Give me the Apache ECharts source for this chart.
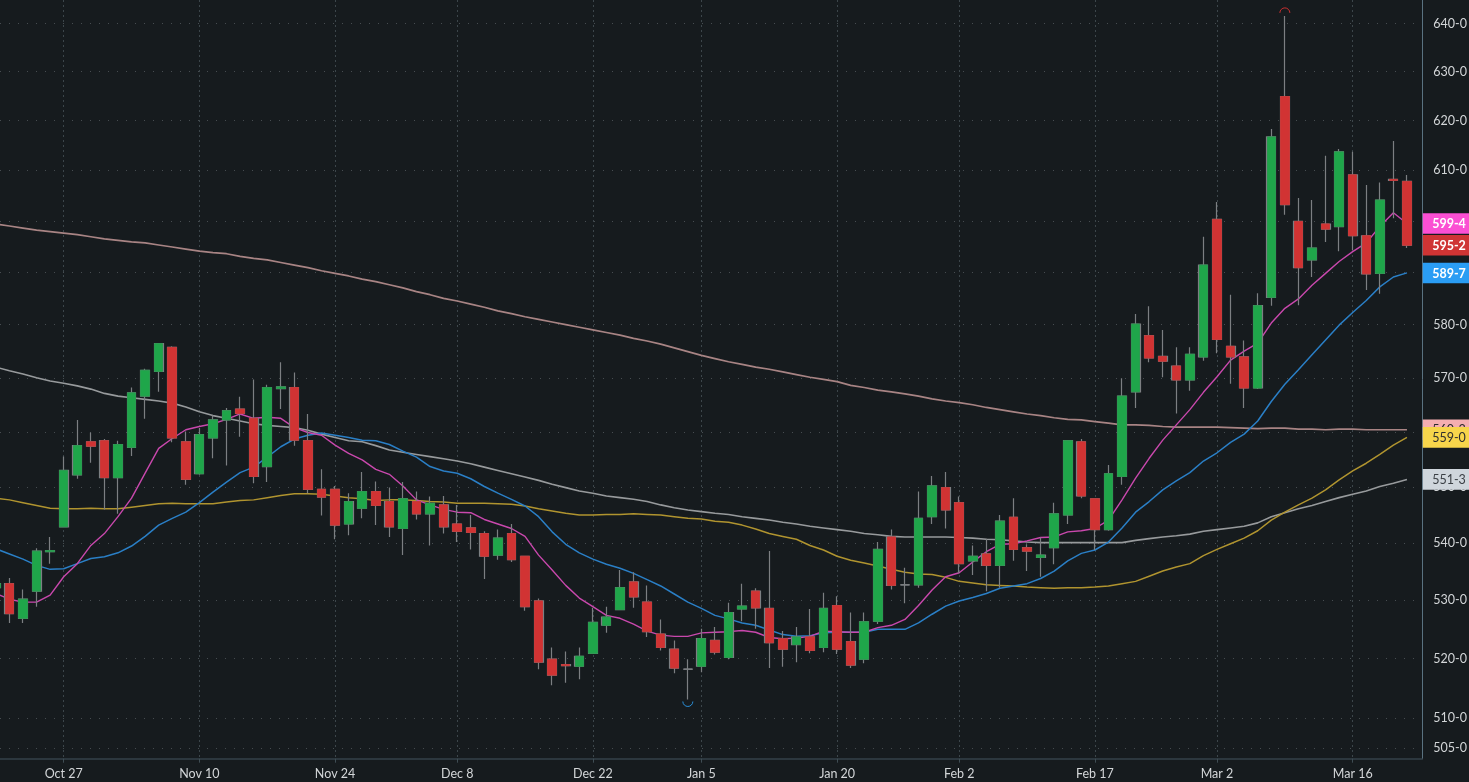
<!DOCTYPE html>
<html>
<head>
<meta charset="utf-8">
<title>Candlestick chart</title>
<style>html,body{margin:0;padding:0;background:#161b1e}#c{width:1469px;height:782px}</style>
<script src="https://cdn.jsdelivr.net/npm/echarts@6/dist/echarts.min.js"></script>
</head>
<body>
<div id="c"></div>
<script>
// bar number -5 .. 99, 0 being Oct 27
const firstBar = -5;
const dateTickBars = [0,10,20,29,39,47,57,66,76,85,95];
const dateTickLabels = ['Oct 27','Nov 10','Nov 24','Dec 8','Dec 22','Jan 5','Jan 20','Feb 2','Feb 17','Mar 2','Mar 16'];
const priceTicks = [640,630,620,610,600,590,580,570,560,550,540,530,520,510,505];

const opens = [532.2,532.9,526.9,531.6,538.5,542.9,552.2,558.2,558.4,551.7,557.2,566.6,571.2,575.7,558.2,552.4,558.9,562.2,564.2,562.5,553.7,568,568.2,558.4,549.6,549.6,543.4,546.2,549.2,547.4,542.6,547.4,545.2,546.8,543.4,542.7,541.7,537.9,541.7,537.7,529.9,519.9,519,518.7,520.9,525.7,528.4,533.2,529.7,524.2,521.6,518.2,518.7,523.1,520.2,528.5,531.6,528.6,523.4,522.4,523.7,521.9,529.1,522.9,519.9,526.4,541.1,532.7,532.7,544.7,549.9,547.2,536.9,538.1,536.1,544.6,539.2,537.5,539.2,545,558.2,547.9,542.4,551.9,567.4,577.9,574,572.2,569.6,573.9,600.3,575.9,573.9,568.1,585.2,624.9,599.9,592.4,599.4,598.9,609.1,597.1,589.8,608.2,607.8];
const closes = [532.9,527.7,530.2,538.6,538.7,553,557.5,557.4,551.7,557.7,567.2,571.4,576.4,558.9,551.4,559.5,562.2,563.9,563.4,551.9,568.2,568.3,558.5,549.6,548.2,543.2,547.4,549.2,546.7,542.9,547.9,545.2,547.1,542.9,542.1,541.9,537.7,540.9,537.1,528.9,519.4,517.2,518.8,520.4,526.2,527.1,532.2,530.6,524.6,521.9,518.4,518.2,523.4,521.1,527.9,529,528.7,522.7,521.6,523.7,521.4,528.6,521.6,518.9,526.3,538.9,532.6,532.7,544.4,550.2,545.9,536.4,537.7,536.1,543.9,538.9,538.6,537.9,545.2,558.4,548.4,542.4,552.4,566.6,580.1,573.7,573.1,569.6,574.4,591.4,577.2,573.9,568.1,583.6,616.7,603.2,590.9,594.7,598.4,613.7,597.1,589.7,604.1,608,595.25];
const lows = [530.5,526.1,526.1,528.9,536.4,542.9,551.5,554.4,546,545.2,555.6,562.4,567.4,558.1,550.4,552.2,555.2,553.9,559.1,550.7,550.9,564.2,557.5,548.9,544.9,540.7,541.4,544.4,543.2,541.1,537.9,544.2,539.6,541.7,540.2,538.9,533.7,537.1,536.7,528.2,518.2,515.5,515.9,516.5,520.9,524.4,528.4,528.7,523.7,521.4,517.5,513.1,517.7,520.7,519.9,526.4,525.1,518.4,518.6,519.4,520.9,521.1,520.8,518.4,519.2,525.9,531.9,529.5,532.2,543.4,542.6,534.7,534.4,531.6,532.2,536.9,535.1,534.1,536.3,543.4,548,538.8,542.2,550.4,564.4,572.9,570.1,563.4,567.6,573.2,574.6,568.9,564.4,567.9,583.6,601.2,583.7,589.1,595.9,594.1,594.3,586.6,585.9,600.5,594.7];
const highs = [534,533.9,531.9,539.1,541.1,555.5,562.2,559.9,558.7,558.4,568.2,571.7,576.4,575.9,560.1,560.7,563,564.4,566.5,569.7,568.7,572.9,571,563.3,553.2,550.2,548.9,552.7,551,549.9,550.9,549.2,548.3,548.4,546.8,545,542.1,542.4,543.4,537.7,530.3,521.9,521.2,521.9,528.7,528.9,535.3,534.9,532.6,526.7,523.1,519.9,525.1,525.4,529.6,532.9,532.1,538.6,524.7,525.4,528.5,531.3,530.7,527.9,527.9,540.2,542.4,535.7,549.2,552,552.7,548.3,539.6,540.8,545,548,539.8,541,547.2,558.5,558.7,548,554,569.9,582,583.5,579,575.7,575.7,596.9,603.7,585.7,577,586,618.3,641.6,604.5,604.1,612.9,614.3,613.7,607.1,607.6,615.9,609.1];

const avgPink = [531.2,530.2,529.7,529.7,530.9,534.1,536.4,539.6,541.7,544.7,548,552.5,557,558.8,560.4,561,561.5,562.3,563.3,562.5,562.7,562.5,560.8,559.9,559.4,557.6,556.1,554.9,553.2,552.3,550.2,547.7,546.8,546,545.5,545.4,544.2,543.4,542.6,541.2,537.9,535.3,532.6,530.4,528.9,527.4,526.9,525.9,524.7,524,523.8,523.8,524.4,524.5,524.6,524.8,524.5,523.6,523.4,523.5,523.8,524.7,524.6,524.5,524.5,525.3,525.7,526.7,529.1,531.8,534.1,534.8,536.7,538.5,539.8,539.9,540.4,541,541.1,542,542.2,542.6,544.1,547.7,551.6,555.2,558.5,561.3,564.1,567.3,570.2,573.3,575,576.5,580.3,583.1,584.9,587.5,589.8,592.1,594,595.7,598.9,601.6,599.5];
const avgBlue = [539,538.1,537.2,536.1,535.4,535.5,536.4,537.3,537.6,538.3,539.5,541.2,543.2,544.4,545.5,547.2,549.1,550.9,552.6,553.6,555.4,557.3,558.7,559.4,559.8,559.4,559,558.5,558.4,557.7,556.5,555.4,553.7,552.9,552.5,551.5,550.1,548.9,547.8,546.6,544.7,542,539.8,538.3,537.2,536.3,535.6,534.7,533.6,532.5,531.1,529.7,528.6,527.4,526.8,526.1,525.7,524.9,524.1,523.8,523.9,524.4,524.5,524.5,524.5,525,525,525,526.1,527.6,529,529.9,530.5,531.2,532.1,532.5,532.9,533.8,535.1,536.9,538.2,538.8,540.2,542.7,545.5,547.4,549.5,551.1,552.6,554.7,556.2,558.1,559.6,562,565.6,568.8,571.5,574.3,577.1,579.9,582.3,584.6,587.2,589.1,589.9];
const avgYellow = [548,547.7,547.2,546.7,546.2,546.1,546.1,546.2,546.1,546.1,546.4,546.7,547,547.1,547,547,547,547.3,547.6,547.7,548.1,548.5,548.8,548.8,548.7,548.4,548.1,547.9,547.6,547.7,547.7,547.6,547.4,547.3,547.1,547.1,547.1,547,546.9,546.6,546.1,545.7,545.3,545,545,545.1,545.1,545.2,545.1,545,544.7,544.4,544.3,543.9,543.7,543.2,542.5,541.7,541.2,540.7,539.6,538.8,537.7,537,536.5,536,535.4,534.9,534.6,534.5,534,533.3,533,532.7,532.6,532.5,532.3,532.2,532.1,532.2,532.2,532.3,532.5,532.9,533.3,534.2,535.1,535.8,536.4,537.8,538.9,539.9,540.9,542.2,544.1,545.5,546.8,548,549.5,551.3,552.9,554.3,555.9,557.6,559];
const avgGray = [572,571.3,570.7,570,569.4,569,568.5,567.9,567.1,566.6,566.3,566,565.7,565.3,564.6,563.7,563,562.5,562,561.5,561.2,561,560.8,560.3,559.6,559,558.4,558.2,557.5,556.7,556.3,555.9,555.5,555.1,554.7,554.2,553.6,553,552.4,551.8,551.2,550.5,549.9,549.3,548.9,548.4,548.1,547.8,547.4,546.8,546.3,545.9,545.6,545.3,545.1,544.7,544.4,544.1,543.7,543.4,543,542.7,542.4,542.1,541.7,541.5,541.2,541.1,541.1,541.1,541.1,541,540.9,540.7,540.6,540.4,540.2,540.1,540.1,540.1,540.1,540.1,540.1,540.1,540.5,540.8,541.1,541.3,541.6,542.1,542.4,542.7,543,543.6,544.7,545.4,546.1,546.7,547.4,548.1,548.7,549.3,550.1,550.7,551.375];
const avgBrown = [599.4,599,598.6,598.2,597.9,597.6,597.3,596.9,596.5,596.2,595.9,595.7,595.3,594.9,594.5,594.1,593.8,593.6,593.1,592.7,592.4,591.9,591.4,590.9,590.3,589.8,589.3,588.7,588.2,587.6,587,586.3,585.7,585,584.5,583.9,583.3,582.6,582.1,581.5,581,580.5,580,579.5,579,578.5,578,577.4,576.9,576.3,575.6,574.9,574.2,573.6,573,572.5,572,571.6,571.1,570.6,570.1,569.7,569.3,568.6,568.2,567.7,567.4,567,566.6,566.1,565.7,565.4,565,564.5,564.1,563.7,563.3,563,562.6,562.3,562.2,561.9,561.6,561.3,561.3,561.2,561,560.9,560.9,560.9,560.9,560.8,560.7,560.6,560.7,560.7,560.5,560.5,560.4,560.5,560.5,560.4,560.4,560.4,560.4];

const tagValues = [560.4,559,551.375,589.875,595.25,599.5];
const tagTexts = ['560-3','559-0','551-3','589-7','595-2','599-4'];
const tagFills = ['#f4aeb0','#f7d54b','#cfd6dc','#2a9df4','#cf3434','#fb4fd3'];
const tagInks = ['#2a2a2a','#2e2e2e','#3a3f44','#ffffff','#ffffff','#ffffff'];
const tagWeights = [400,400,400,700,700,700];

const extremeBars = [90,46];
const extremeValues = [641.6,513.1];
const extremeColors = ['#c92f2f','#2a8fd8'];

const barIdx = opens.map((_, i) => firstBar + i);
const wickData = barIdx.map((k, i) => [k, opens[i], closes[i], lows[i], highs[i]]);
const bodyData = barIdx.map((k, i) => [k, opens[i], closes[i], Math.min(opens[i], closes[i]), Math.max(opens[i], closes[i])]);
const pairs = arr => barIdx.map((k, i) => [k, arr[i]]);
const lineSeries = (arr, color, width) => ({
  type: 'line', data: pairs(arr), showSymbol: false, symbol: 'none', smooth: false,
  lineStyle: {color, width}, z: 2, silent: true, animation: false
});

const chart = echarts.init(document.getElementById('c'), null, {renderer: 'canvas'});
chart.setOption({
  animation: false,
  backgroundColor: '#161b1e',
  grid: {left: 0, right: 46.7, top: 0, bottom: 23.3, containLabel: false, outerBoundsMode: 'none'},
  xAxis: {
    type: 'value', min: -4.695, max: 100.13,
    axisLine: {onZero: false, lineStyle: {color: '#354249', width: 1.5}},
    axisTick: {show: true, length: 4, customValues: dateTickBars, lineStyle: {color: '#3f4d54'}},
    axisLabel: {
      customValues: dateTickBars, margin: 9, color: '#d3d6d8',
      fontFamily: 'Lato', fontSize: 12.5,
      formatter: v => dateTickLabels[dateTickBars.indexOf(v)]
    },
    splitLine: {show: true, lineStyle: {color: '#3c464b', type: [2, 3], width: 1}}
  },
  yAxis: {
    type: 'log', logBase: 10, position: 'right', min: 503.26, max: 644.94,
    axisLine: {show: true, onZero: false, lineStyle: {color: '#5a7280', width: 1}},
    axisTick: {show: false, customValues: priceTicks},
    axisLabel: {
      customValues: priceTicks, margin: 11, color: '#d3d6d8',
      fontFamily: 'Lato', fontSize: 12.5,
      formatter: v => Math.round(v) + '-0'
    },
    splitLine: {show: true, lineStyle: {color: '#474d51', type: [1, 8], width: 1}}
  },
  series: [
    lineSeries(avgBrown, '#a88484', 1.7),
    lineSeries(avgGray, '#979a9c', 1.6),
    lineSeries(avgYellow, '#b0942f', 1.5),
    lineSeries(avgBlue, '#2a7fc6', 1.5),
    lineSeries(avgPink, '#c948ad', 1.4),
    {
      type: 'candlestick', data: wickData, barWidth: 9.4, z: 3, silent: true,
      itemStyle: {color: '#6f7477', color0: '#6f7477', borderColor: '#7c7f82', borderColor0: '#7c7f82', borderColorDoji: '#7c7f82', borderWidth: 1.2}
    },
    {
      type: 'candlestick', data: bodyData, barWidth: 9, z: 4, silent: true,
      itemStyle: {color: '#1fa64a', color0: '#d13333', borderColor: '#2a9c50', borderColor0: '#c83a3a', borderColorDoji: '#7c7f82', borderWidth: 1}
    },
    {
      type: 'custom', z: 5, silent: true, clip: false,
      data: extremeBars.map((k, i) => [k, extremeValues[i]]),
      renderItem: (params, api) => {
        const p = api.coord([api.value(0), api.value(1)]);
        const up = params.dataIndex === 0;
        return {
          type: 'arc',
          shape: {cx: p[0], cy: up ? p[1] - 3 : p[1] + 2, r: 5,
            startAngle: up ? Math.PI : 0, endAngle: up ? 2 * Math.PI : Math.PI},
          style: {fill: 'none', stroke: extremeColors[params.dataIndex], lineWidth: 1}
        };
      }
    },
    {
      type: 'custom', z: 10, silent: true, clip: false,
      data: tagValues.map(v => [99, v]),
      renderItem: (params, api) => {
        const i = params.dataIndex;
        const y = api.coord([api.value(0), api.value(1)])[1];
        return {
          type: 'group',
          children: [
            {type: 'rect', shape: {x: 1422.8, y: y - 10.3, width: 47, height: 20.6}, style: {fill: tagFills[i]}},
            {type: 'text', style: {x: 1449, y: y + 0.5, text: tagTexts[i], fill: tagInks[i],
              font: tagWeights[i] + ' 12.5px Lato', textAlign: 'center', textVerticalAlign: 'middle'}}
          ]
        };
      }
    }
  ]
});
</script>
</body>
</html>
